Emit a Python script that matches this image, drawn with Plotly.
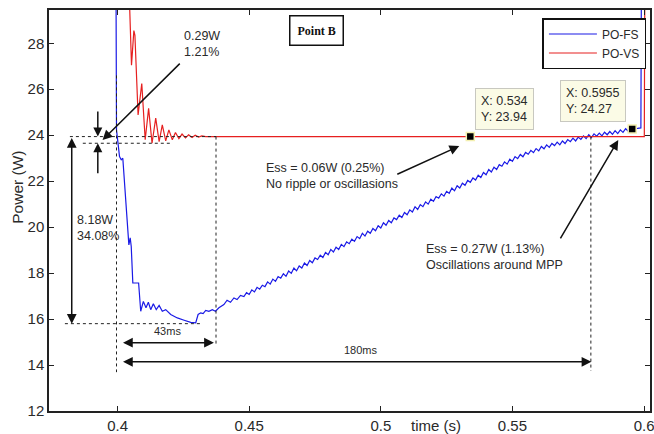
import plotly.graph_objects as go

# ---------------- data ----------------
# PO-FS (blue): fast drop after the step, then slow rise towards MPP
fs_time_early = [0.3994, 0.3996, 0.40075, 0.4014, 0.4020, 0.4043, 0.4048, 0.4052,
                 0.4058, 0.4080, 0.4088, 0.4098, 0.4108, 0.4117, 0.4126, 0.4136,
                 0.4147, 0.4158, 0.4170, 0.4183, 0.4202, 0.4227, 0.4253, 0.4278,
                 0.4297, 0.4306, 0.4316, 0.4325, 0.4335, 0.4347, 0.4360, 0.4372,
                 0.4385, 0.4404, 0.4416, 0.4429, 0.4442, 0.4454, 0.4467, 0.4480]
fs_power_early = [31.0, 24.23, 23.07, 22.93, 23.00, 19.23, 19.53, 19.16,
                  17.57, 17.57, 16.34, 16.77, 16.49, 16.73, 16.41, 16.67,
                  16.41, 16.59, 16.34, 16.41, 16.20, 16.05, 15.95, 15.86,
                  15.84, 16.20, 16.27, 16.24, 16.38, 16.34, 16.41, 16.34,
                  16.49, 16.63, 16.82, 16.73, 16.92, 16.85, 17.03, 16.98]
fs_rise_start_ms = 449          # rise samples every 1 ms from 0.449 s
fs_rise_power = [
    17.15, 17.07, 17.27, 17.18, 17.38, 17.30, 17.47, 17.41, 17.62, 17.52,
    17.74, 17.64, 17.85, 17.78, 17.97, 17.86, 18.09, 17.99, 18.22, 18.10,
    18.31, 18.22, 18.44, 18.33, 18.55, 18.45, 18.66, 18.59, 18.78, 18.68,
    18.90, 18.80, 19.03, 18.92, 19.13, 19.03, 19.25, 19.15, 19.36, 19.28,
    19.48, 19.38, 19.59, 19.50, 19.73, 19.61, 19.82, 19.73, 19.94, 19.84,
    20.06, 19.96, 20.19, 20.08, 20.29, 20.19, 20.40, 20.33, 20.52, 20.42,
    20.64, 20.54, 20.75, 20.66, 20.89, 20.77, 20.98, 20.89, 21.10, 21.00,
    21.22, 21.12, 21.33, 21.26, 21.45, 21.35, 21.56, 21.47, 21.70, 21.58,
    21.80, 21.70, 21.91, 21.82, 22.03, 21.95, 22.14, 22.05, 22.26, 22.16,
    22.38, 22.28, 22.51, 22.40, 22.61, 22.51, 22.72, 22.65, 22.84, 22.74,
    22.96, 22.86, 23.07, 22.98, 23.16, 23.06, 23.25, 23.17, 23.34, 23.24,
    23.42, 23.32, 23.51, 23.41, 23.58, 23.47, 23.64, 23.55, 23.70, 23.58,
    23.75, 23.64, 23.81, 23.72, 23.87, 23.75, 23.92, 23.82, 23.97, 23.85,
    24.02, 23.90, 24.06, 23.96, 24.09, 23.97, 24.13, 24.02, 24.16, 24.04,
    24.20, 24.07, 24.23, 24.12, 24.28, 24.17, 24.27]
fs_time_end = [0.5955, 0.5975, 0.5988, 0.5990]
fs_power_end = [24.27, 24.30, 24.32, 31.0]

# PO-VS (red): damped oscillation settling at 23.94 W
vs_time = [0.4042, 0.4053, 0.4062, 0.4066, 0.4078, 0.4092, 0.4105, 0.4118,
           0.4131, 0.4145, 0.4158, 0.4170, 0.4183, 0.4195, 0.4208, 0.4220,
           0.4233, 0.4245, 0.4258, 0.4270, 0.4283, 0.4295, 0.4308, 0.4320,
           0.4335, 0.5000, 0.6001, 0.6003]
vs_power = [31.0, 27.05, 28.55, 28.35, 24.88, 26.25, 23.80, 25.17,
            23.65, 24.74, 23.72, 24.45, 23.75, 24.23, 23.80, 24.12,
            23.85, 24.05, 23.88, 24.02, 23.90, 24.00, 23.92, 23.97,
            23.94, 23.94, 23.94, 31.0]

series_names = ["PO-FS", "PO-VS"]
tip_x = [0.534, 0.5955]
tip_y = [23.94, 24.27]
x_tick_vals = [0.4, 0.45, 0.5, 0.55, 0.6]
x_tick_text = ["0.4", "0.45", "0.5", "0.55", "0.6"]
y_tick_vals = [12, 14, 16, 18, 20, 22, 24, 26, 28]

# ---------------- figure ----------------
fs_time = fs_time_early + [(fs_rise_start_ms + i) / 1000 for i in range(len(fs_rise_power))] + fs_time_end
fs_power = fs_power_early + fs_rise_power + fs_power_end

BLUE = "#1a1ae6"
RED = "#e62020"
TXT = "#2a2a2a"
FONT = "Liberation Sans, Arial, sans-serif"

fig = go.Figure()
fig.add_trace(go.Scatter(x=fs_time, y=fs_power, mode="lines", name=series_names[0],
                         line=dict(color=BLUE, width=1.2)))
fig.add_trace(go.Scatter(x=vs_time, y=vs_power, mode="lines", name=series_names[1],
                         line=dict(color=RED, width=1.2)))
fig.add_trace(go.Scatter(x=tip_x, y=tip_y, mode="markers", showlegend=False,
                         marker=dict(symbol="square", size=8, color="black",
                                     line=dict(color="#f4f0b0", width=1.5))))

ann = []
shapes = []


def arrow(x0, y0, x1, y1, both=False, size=1.3, width=1.5):
    d = dict(x=x1, y=y1, ax=x0, ay=y0, xref="x", yref="y", axref="x", ayref="y",
             text="", showarrow=True, arrowhead=2, arrowsize=size, arrowwidth=width,
             arrowcolor="#111")
    if both:
        d.update(arrowside="end+start", startarrowhead=2, startarrowsize=size)
    ann.append(d)


def text(x, y, s, size=12.5, xanchor="left", yanchor="middle", **kw):
    d = dict(x=x, y=y, xref="x", yref="y", text=s, showarrow=False, xanchor=xanchor,
             yanchor=yanchor, align="left", font=dict(family=FONT, size=size, color=TXT))
    d.update(kw)
    ann.append(d)


def dotted(x0, y0, x1, y1):
    shapes.append(dict(type="line", xref="x", yref="y", x0=x0, y0=y0, x1=x1, y1=y1,
                       line=dict(color="#222", width=1, dash="dot")))


# guide lines
dotted(0.3819, 23.94, 0.4374, 23.94)
dotted(0.3868, 23.65, 0.4203, 23.65)
dotted(0.3800, 15.80, 0.4317, 15.80)
dotted(0.3996, 26.60, 0.3996, 13.69)
dotted(0.4374, 23.94, 0.4374, 14.82)
dotted(0.5798, 23.94, 0.5798, 13.74)

# ripple annotation
text(0.4245, 27.25, "0.29W<br>1.21%", yanchor="bottom")
arrow(0.4242, 27.18, 0.3943, 23.79)
arrow(0.3925, 25.10, 0.3925, 23.94, size=1.2)
arrow(0.3925, 22.28, 0.3925, 23.65, size=1.2)

# 8.18W drop
arrow(0.3826, 23.94, 0.3826, 15.80, both=True)
text(0.3840, 19.95, "8.18W<br>34.08%")

# 43 ms / 180 ms
text(0.4189, 15.47, "43ms", size=11, xanchor="center")
arrow(0.4015, 14.97, 0.4366, 14.97, both=True)
text(0.4923, 14.65, "180ms", size=11, xanchor="center")
arrow(0.4015, 14.14, 0.5800, 14.14, both=True)

# steady-state error notes
text(0.4555, 22.22, "Ess = 0.06W (0.25%)<br>No ripple or oscillasions")
arrow(0.5057, 22.27, 0.5298, 23.53)
text(0.5165, 18.69, "Ess = 0.27W (1.13%)<br>Oscillations around MPP")
arrow(0.5679, 19.45, 0.5902, 23.79)

# data tips
for (tx, ty), (bx, by) in zip(zip(tip_x, tip_y), [(0.5358, 26.04), (0.5679, 26.40)]):
    ann.append(dict(x=bx, y=by, xref="x", yref="y", xanchor="left", yanchor="top",
                    text=f"X: {tx:g}<br>Y: {ty:.2f}", showarrow=False, align="left",
                    bgcolor="#fbfbe6", bordercolor="#c8c8c0", borderwidth=1, borderpad=5,
                    font=dict(family=FONT, size=12.5, color=TXT)))

# Point B label
ann.append(dict(x=0.4756, y=0.950, xref="x", yref="paper", text="<b>Point B</b>",
                showarrow=False, xanchor="center", yanchor="middle",
                bordercolor="#111", borderwidth=1.5, borderpad=7, bgcolor="white",
                font=dict(family="Liberation Serif, Times New Roman, serif", size=12, color="#111")))

# axis titles
ann.append(dict(x=0.5208, y=-0.035, xref="x", yref="paper", text="time (s)", showarrow=False,
                xanchor="center", yanchor="middle", font=dict(family=FONT, size=15, color=TXT)))
ann.append(dict(x=-0.0514, y=0.557, xref="paper", yref="paper", text="Power (W)", showarrow=False,
                textangle=-90, xanchor="center", yanchor="middle",
                font=dict(family=FONT, size=15.5, color=TXT)))

axis_common = dict(showline=True, linecolor="#222", linewidth=1.5, mirror="ticks",
                   ticks="inside", ticklen=5, tickwidth=1.2, tickcolor="#222",
                   showgrid=False, zeroline=False, ticklabeloverflow="allow",
                   tickfont=dict(family=FONT, size=15, color=TXT))

fig.update_layout(
    width=654, height=434,
    margin=dict(l=49, r=0, t=10, b=22),
    paper_bgcolor="white", plot_bgcolor="white",
    xaxis=dict(range=[0.37396, 0.37396 + 605 / 2650], tickvals=x_tick_vals,
               ticktext=x_tick_text, **axis_common),
    yaxis=dict(range=[12, 12 + 402 / 23.04], tickvals=y_tick_vals, **axis_common),
    legend=dict(x=0.821, y=0.98, xanchor="left", yanchor="top", bgcolor="white",
                bordercolor="#111", borderwidth=1.5, itemwidth=48,
                font=dict(family=FONT, size=12, color=TXT)),
    annotations=ann, shapes=shapes,
)

fig.write_html("out.html")
